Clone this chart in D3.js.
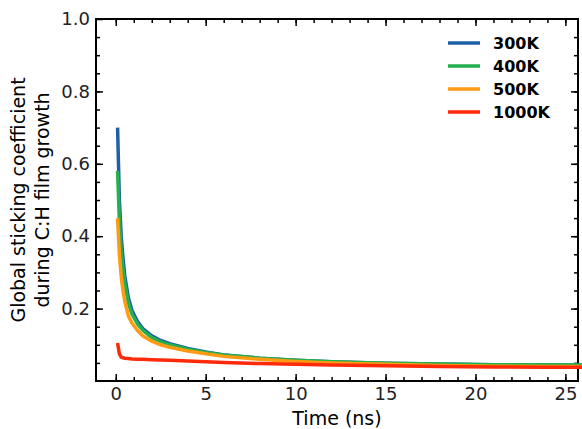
<!DOCTYPE html><html><head><script src="https://cdn.jsdelivr.net/npm/d3@7"></script>
<style>body{margin:0;background:#fff}text{font-family:"DejaVu Sans"}</style></head><body><svg width="582" height="429"></svg>
<script>
const times=[0.1,0.2,0.3,0.4,0.5,0.7,0.9,1.2,1.5,2,2.5,3,4,5,6,8,10,12,15,18,21,24,26];
const s300=[0.70,0.50,0.40,0.34,0.29,0.23,0.195,0.165,0.145,0.125,0.112,0.103,0.09,0.08,0.072,0.063,0.057,0.053,0.049,0.047,0.045,0.044,0.044];
const s400=[0.58,0.44,0.36,0.31,0.27,0.215,0.185,0.158,0.14,0.12,0.108,0.1,0.088,0.079,0.072,0.063,0.057,0.053,0.049,0.047,0.045,0.044,0.044];
const s500=[0.45,0.35,0.29,0.25,0.22,0.18,0.16,0.14,0.125,0.11,0.1,0.093,0.083,0.075,0.068,0.06,0.054,0.05,0.046,0.043,0.041,0.04,0.04];
const s1000=[0.105,0.075,0.066,0.064,0.063,0.062,0.061,0.06,0.06,0.059,0.058,0.057,0.055,0.053,0.051,0.048,0.046,0.044,0.042,0.04,0.039,0.038,0.038];
const series=[["300K",s300,"#1f5fa8"],["400K",s400,"#22b14c"],["500K",s500,"#ff9a12"],["1000K",s1000,"#ff2a0a"]];
const svg=d3.select("svg");
const L=96,R=578,T=19,B=381;
const x=d3.scaleLinear().domain([-1.1,25.7]).range([L,R]);
const y=d3.scaleLinear().domain([0,1]).range([B,T]);
svg.append("g").attr("transform",`translate(0,${B})`).call(d3.axisBottom(x).tickValues([0,5,10,15,20,25]).tickSize(-7).tickPadding(6));
svg.append("g").attr("transform",`translate(0,${B})`).call(d3.axisBottom(x).tickValues(d3.range(0,26)).tickSize(-4).tickFormat(""));
svg.append("g").attr("transform",`translate(0,${T})`).call(d3.axisTop(x).tickValues([0,5,10,15,20,25]).tickSize(-7).tickFormat(""));
svg.append("g").attr("transform",`translate(0,${T})`).call(d3.axisTop(x).tickValues(d3.range(0,26)).tickSize(-4).tickFormat(""));
svg.append("g").attr("transform",`translate(${L},0)`).call(d3.axisLeft(y).tickValues([0.2,0.4,0.6,0.8,1.0]).tickFormat(d3.format(".1f")).tickSize(-7).tickPadding(6));
svg.append("g").attr("transform",`translate(${L},0)`).call(d3.axisLeft(y).tickValues(d3.range(0.05,1,0.05)).tickSize(-4).tickFormat(""));
svg.append("g").attr("transform",`translate(${R},0)`).call(d3.axisRight(y).tickValues([0.2,0.4,0.6,0.8]).tickSize(-7).tickFormat(""));
svg.append("g").attr("transform",`translate(${R},0)`).call(d3.axisRight(y).tickValues(d3.range(0.05,1,0.05)).tickSize(-4).tickFormat(""));
svg.selectAll(".domain").remove();
svg.selectAll(".tick line").attr("stroke","#000").attr("stroke-width",1.5);
svg.selectAll(".tick text").attr("font-size",18).attr("fill","#222");
svg.append("rect").attr("x",L).attr("y",T).attr("width",R-L).attr("height",B-T).attr("fill","none").attr("stroke","#000").attr("stroke-width",2);
const line=d3.line().x((d,i)=>x(times[i])).y(d=>y(d));
series.forEach(([n,v,c])=>svg.append("path").attr("d",line(v)).attr("fill","none").attr("stroke",c).attr("stroke-width",3.5));
series.forEach(([n,v,c],i)=>{const yy=43+i*23;
svg.append("line").attr("x1",448).attr("x2",480).attr("y1",yy).attr("y2",yy).attr("stroke",c).attr("stroke-width",3.5);
svg.append("text").attr("x",493).attr("y",yy+6).text(n).attr("font-weight","bold").attr("font-size",16);});
svg.append("text").attr("x",337).attr("y",425).attr("text-anchor","middle").attr("font-size",19).text("Time (ns)");
const yl=svg.append("text").attr("transform","translate(0,200) rotate(-90)").attr("text-anchor","middle").attr("font-size",19);
yl.append("tspan").attr("x",0).attr("y",25).text("Global sticking coefficient");
yl.append("tspan").attr("x",0).attr("y",49).text("during C:H film growth");
</script></body></html>
